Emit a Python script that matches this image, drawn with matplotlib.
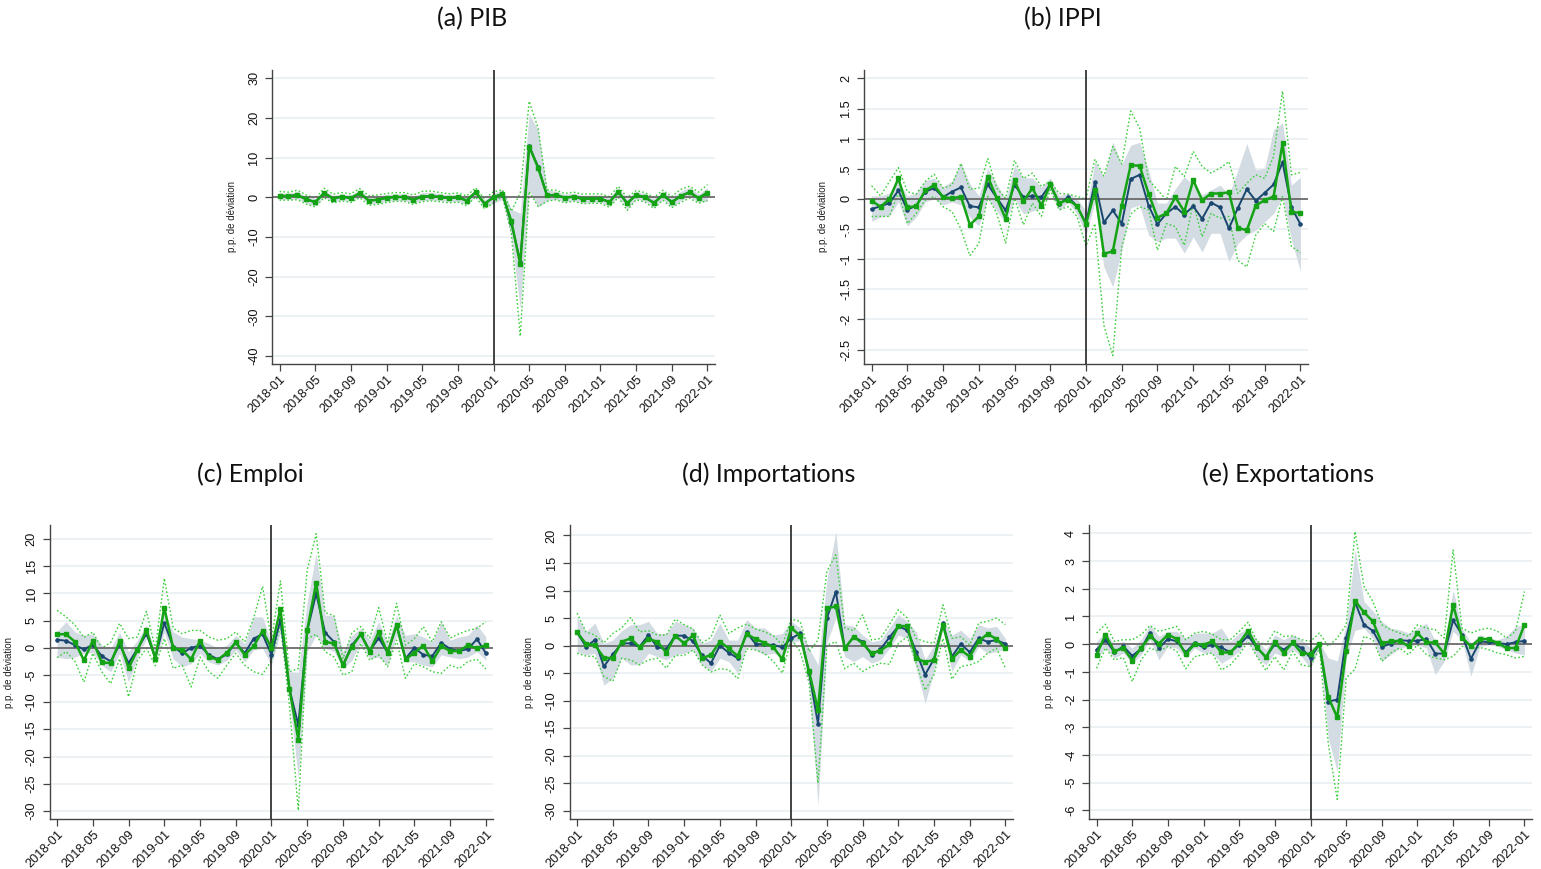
import numpy as np
import matplotlib
matplotlib.use("Agg")
import matplotlib.pyplot as plt
from matplotlib.ticker import FuncFormatter

# Monthly axis, 2018-01 .. 2022-01
MONTHS = [f"{y}-{m:02d}" for y in range(2018, 2023) for m in range(1, 13)][:49]

# ---- (a) PIB ----
pib_blue = [0.4, 0.3, 0.6, -0.5, -1.2, 1.1, -0.3, 0.2, -0.2, 1.1, -0.8, -0.6, -0.1, 0.1, 0.1, -0.6, 0.2, 0.3, 0.1, -0.2, 0.0, -0.8, 1.3, -1.6, 0.0,
            0.9, -6.5, -16.2, 13.0, 7.7, 0.5, 0.6, -0.1, 0.2, -0.4, -0.3, -0.3, -1.2, 1.4, -1.5, 0.6, 0.0, -1.4, 0.6, -1.2, 0.3, 1.3, -0.2, 1.2]
pib_green = [0.4, 0.3, 0.6, -0.5, -1.2, 1.1, -0.3, 0.2, -0.2, 1.1, -0.8, -0.6, -0.1, 0.1, 0.1, -0.6, 0.2, 0.3, 0.1, -0.2, 0.0, -0.8, 1.3, -1.6, 0.0,
             0.9, -6.0, -16.8, 12.8, 7.5, 0.5, 0.6, -0.1, 0.2, -0.4, -0.3, -0.3, -1.2, 1.4, -1.5, 0.6, 0.0, -1.4, 0.6, -1.2, 0.3, 1.3, -0.2, 1.2]
pib_band_lo = [-0.4, -0.5, -0.4, -1.4, -2.2, 0.2, -1.2, -0.6, -1.0, 0.2, -1.6, -1.5, -1.0, -0.8, -0.8, -1.5, -0.8, -0.7, -0.8, -1.1, -1.0, -1.8, 0.4, -2.6, -1.5,
               -0.5, -10.0, -28.0, 2.0, -2.5, -0.8, -0.5, -1.2, -0.8, -1.4, -1.2, -1.2, -2.2, 0.2, -3.0, -0.4, -1.0, -2.5, -0.5, -2.4, -0.8, 0.2, -1.2, -1.0]
pib_band_hi = [1.2, 1.0, 1.5, 0.3, -0.3, 1.8, 0.5, 0.9, 0.6, 1.8, 0.0, 0.3, 0.8, 0.9, 0.9, 0.3, 1.2, 1.3, 0.9, 0.6, 0.8, 0.2, 2.0, -0.6, 1.0,
               2.0, -3.0, -4.0, 21.0, 17.0, 2.0, 1.5, 0.8, 1.0, 0.5, 0.6, 0.6, 0.0, 2.5, -0.3, 1.5, 1.0, -0.2, 1.5, 0.0, 1.5, 2.5, 0.8, 2.5]
pib_dot_lo = [-0.7, -0.7, -0.6, -1.7, -2.4, -0.1, -1.4, -0.9, -1.3, -0.1, -2.0, -1.8, -1.3, -1.0, -1.0, -1.8, -1.1, -0.9, -1.1, -1.4, -1.2, -2.1, 0.1, -2.9, -1.4,
              0.3, -9.0, -35.0, 1.5, -2.3, -1.0, -0.6, -1.4, -1.0, -1.6, -1.5, -1.5, -2.5, 0.0, -3.3, -0.6, -1.2, -2.8, -0.7, -2.6, -1.3, -0.2, -1.5, -0.8]
pib_dot_hi = [1.5, 1.3, 1.8, 0.6, -0.2, 2.3, 0.8, 1.2, 0.9, 2.2, 0.4, 0.6, 1.0, 1.2, 1.2, 0.6, 1.5, 1.6, 1.2, 0.9, 1.1, 0.4, 2.4, -0.4, 1.4,
              1.9, -3.5, 1.1, 24.2, 17.5, 1.9, 1.8, 1.0, 1.3, 0.8, 0.9, 0.9, 0.2, 2.8, 0.0, 1.7, 1.2, 0.0, 1.8, 0.2, 2.0, 2.8, 1.3, 3.2]

# ---- (b) IPPI ----
ippi_blue = [-0.17, -0.12, -0.07, 0.14, -0.18, -0.11, 0.12, 0.18, 0.03, 0.12, 0.19, -0.12, -0.14, 0.24, 0.02, -0.19, 0.23, 0.03, 0.05, 0.03, 0.24, -0.09, 0.03, -0.12, -0.41,
             0.28, -0.39, -0.19, -0.41, 0.33, 0.40, -0.11, -0.42, -0.24, -0.13, -0.26, -0.12, -0.33, -0.06, -0.14, -0.49, -0.15, 0.16, -0.03, 0.10, 0.24, 0.61, -0.14, -0.42]
ippi_green = [-0.03, -0.13, 0.0, 0.34, -0.14, -0.12, 0.14, 0.23, 0.03, 0.01, 0.04, -0.43, -0.29, 0.37, 0.02, -0.33, 0.31, -0.04, 0.18, -0.11, 0.24, -0.07, -0.01, -0.12, -0.42,
              0.14, -0.91, -0.87, -0.11, 0.56, 0.55, 0.09, -0.31, -0.24, 0.03, -0.21, 0.31, -0.02, 0.09, 0.09, 0.11, -0.48, -0.52, -0.11, -0.02, 0.04, 0.92, -0.22, -0.23]
ippi_band_lo = [-0.37, -0.30, -0.28, -0.05, -0.45, -0.30, -0.05, 0.0, -0.10, -0.05, -0.10, -0.30, -0.45, 0.0, -0.20, -0.40, 0.0, -0.25, -0.20, -0.15, 0.15, -0.20, -0.05, -0.25, -0.60,
                -0.05, -1.13, -1.46, -0.85, -0.15, -0.10, -0.60, -0.71, -0.65, -0.65, -0.90, -0.63, -0.88, -0.57, -0.57, -1.04, -0.74, -0.60, -0.52, -0.38, -0.24, 0.04, -0.68, -1.20]
ippi_band_hi = [0.05, 0.05, 0.10, 0.30, 0.05, 0.10, 0.30, 0.35, 0.20, 0.30, 0.60, 0.25, 0.05, 0.50, 0.25, 0.0, 0.55, 0.35, 0.35, 0.20, 0.35, 0.05, 0.10, 0.0, -0.20,
                0.62, 0.37, 0.95, 0.57, 0.89, 0.94, 0.48, -0.07, -0.07, 0.17, 0.37, 0.23, 0.07, 0.15, 0.23, 0.07, 0.48, 0.92, 0.48, 0.51, 1.15, 1.26, 0.23, 0.36]
ippi_dot_lo = [-0.29, -0.29, -0.29, 0.11, -0.41, -0.24, -0.02, 0.04, -0.13, -0.21, -0.50, -0.94, -0.74, 0.04, -0.24, -0.73, 0.01, -0.43, -0.07, -0.29, 0.15, -0.18, -0.13, -0.29, -0.78,
               -0.41, -2.10, -2.60, -0.80, -0.25, -0.13, -0.18, -0.85, -0.41, -0.46, -0.77, -0.07, -0.63, -0.24, -0.32, -0.29, -1.02, -1.13, -0.60, -0.41, -0.54, 0.04, -0.79, -0.89]
ippi_dot_hi = [0.22, 0.05, 0.29, 0.52, 0.12, 0.08, 0.29, 0.41, 0.18, 0.23, 0.59, 0.16, 0.18, 0.67, 0.18, 0.01, 0.64, 0.34, 0.43, 0.21, 0.29, 0.09, 0.08, 0.04, 0.0,
               0.66, 0.38, 0.87, 0.58, 1.46, 1.18, 0.32, 0.15, -0.02, 0.54, 0.37, 0.79, 0.54, 0.43, 0.51, 0.62, 0.09, 0.26, 0.40, 0.34, 0.71, 1.79, 0.40, 0.44]

# ---- (c) Emploi ----
emploi_blue = [1.5, 1.3, 0.5, -0.3, 0.6, -1.5, -2.5, 0.6, -2.8, -0.2, 2.6, -1.8, 4.6, 0.2, -1.0, 0.0, 0.4, -1.3, -2.1, -1.2, 1.0, -1.0, 1.7, 2.5, -1.3,
               5.2, -7.5, -14.2, 3.1, 10.0, 2.8, 1.1, -3.2, 0.5, 2.5, -0.6, 1.8, -0.9, 4.2, -2.0, 0.0, -1.3, -1.5, 0.9, -0.2, -0.6, -0.2, 1.6, -1.0]
emploi_green = [2.5, 2.5, 1.1, -2.3, 1.3, -2.7, -2.8, 1.2, -3.7, -0.4, 3.3, -2.0, 7.4, -0.1, -0.4, -2.1, 1.3, -1.7, -2.2, -0.9, 1.0, -1.3, 0.3, 3.1, 0.0,
                7.2, -7.5, -16.9, 3.3, 12.0, 1.1, 0.8, -3.2, 0.2, 2.5, -0.7, 2.9, -0.9, 4.2, -2.1, -0.9, 0.4, -2.5, 0.3, -0.6, -0.6, 0.5, -0.1, 0.5]
emploi_band_lo = [-1.7, -2.0, -1.7, -1.0, -0.9, -3.2, -4.4, -1.0, -6.3, -1.7, 1.7, -2.6, 2.9, -2.0, -3.5, -2.9, -1.0, -2.6, -3.2, -2.3, -0.4, -2.6, -0.4, -0.1, -3.2,
                  3.0, -9.3, -24.0, -0.7, 2.3, -0.1, -0.7, -3.8, -2.3, 1.1, -2.0, -1.7, -3.2, 2.3, -2.6, -2.6, -3.2, -3.5, -1.3, -1.7, -2.0, -1.7, -0.7, -2.3]
emploi_band_hi = [3.0, 4.8, 2.9, 2.3, 2.6, 0.5, -0.1, 2.8, -0.7, 1.4, 4.2, -0.7, 6.6, 2.9, 2.0, 1.7, 1.4, 0.8, -0.1, 0.5, 2.3, 0.8, 5.7, 5.7, 0.8,
                  7.0, -4.4, -4.5, 8.5, 17.4, 6.0, 5.9, -0.7, 2.3, 3.6, 1.4, 4.8, 0.8, 6.0, 2.3, 2.6, 2.0, 1.1, 4.8, 1.4, 2.0, 2.3, 4.2, 2.0]
emploi_dot_lo = [-1.8, -0.7, -2.5, -6.3, -1.0, -4.4, -6.6, -2.0, -9.0, -2.3, -0.1, -3.3, 1.7, -3.8, -3.2, -7.2, -1.7, -4.4, -5.6, -3.2, -1.0, -3.2, -4.4, -4.9, -2.3,
                 4.2, -10.5, -29.9, 1.7, 2.5, -0.7, -1.7, -5.0, -4.4, 0.8, -2.3, -1.3, -3.5, 1.4, -5.6, -2.9, -3.5, -4.4, -4.7, -3.2, -3.8, -2.5, -2.1, -3.9]
emploi_dot_hi = [6.9, 5.7, 4.2, 1.9, 2.9, -0.1, 1.0, 4.5, 1.7, 2.0, 6.7, -0.2, 12.8, 3.6, 2.6, 3.2, 3.2, 2.0, 1.4, 1.7, 2.9, 1.1, 5.5, 11.3, 1.4,
                 12.3, -4.4, -3.8, 14.3, 21.0, 6.5, 5.9, -2.0, 2.8, 3.9, 1.8, 7.4, 0.8, 8.2, 0.5, 1.7, 3.9, 1.1, 4.8, 1.8, 2.6, 3.2, 3.6, 4.8]

# ---- (d) Importations ----
imp_blue = [2.4, -0.2, 1.0, -3.8, -1.6, 0.4, 0.4, -0.2, 1.9, -0.3, -0.6, 1.8, 1.8, 0.8, -1.8, -3.2, 0.0, -1.3, -2.3, 2.4, 0.3, 0.2, 0.1, -0.3, 1.3,
            2.2, -5.0, -14.2, 5.0, 9.8, -0.5, 1.6, 0.7, -1.7, -0.7, 1.5, 3.5, 2.8, -1.1, -5.3, -2.4, 4.1, -2.0, 0.3, -1.2, 1.3, 0.7, 1.0, 0.3]
imp_green = [2.4, 0.3, 0.1, -2.2, -2.3, 0.7, 1.3, -0.3, 1.2, 0.7, -1.3, 1.8, 0.4, 1.9, -2.3, -1.7, 0.7, -0.5, -1.9, 2.1, 1.2, 0.5, -0.3, -2.5, 3.2,
             1.8, -4.7, -11.7, 6.8, 7.1, -0.5, 1.6, 0.4, -1.4, -0.9, 0.2, 3.6, 3.5, -2.3, -3.0, -2.6, 3.8, -2.4, -0.8, -2.0, 0.8, 2.1, 1.2, -0.5]
imp_band_lo = [-1.2, -1.7, -1.4, -7.2, -5.9, -2.3, -3.5, -3.5, -1.4, -2.0, -2.6, -1.7, -1.4, -0.8, -3.5, -4.7, -2.3, -2.9, -5.0, -0.2, -0.8, -1.7, -1.4, -2.0, 0.4,
               1.0, -7.2, -29.0, 0.5, 5.0, -2.0, -2.9, -2.0, -3.2, -2.6, -0.5, 1.9, 1.3, -4.1, -10.5, -4.7, 3.2, -4.7, -1.7, -2.9, -0.2, -1.4, -1.1, -0.6]
imp_band_hi = [5.3, 2.5, 4.1, 0.4, 1.0, 2.7, 3.8, 3.8, 4.4, 2.2, 2.2, 4.4, 3.8, 3.2, 0.4, 1.0, 4.1, 1.0, 1.0, 4.7, 3.2, 3.2, 1.9, 2.2, 4.4,
               3.2, -0.5, -3.5, 12.0, 20.7, 3.8, 3.5, 1.9, 0.7, 1.0, 3.2, 5.6, 4.4, 2.5, -2.6, 0.1, 4.7, 1.9, 2.8, 1.3, 3.8, 3.2, 3.5, 1.3]
imp_dot_lo = [-1.4, -1.9, -2.0, -5.6, -6.5, -2.3, -2.6, -3.5, -2.6, -2.3, -4.1, -1.8, -1.8, -0.8, -3.5, -4.8, -4.2, -4.4, -6.0, -0.6, -0.8, -1.4, -2.9, -5.0, 1.2,
              -1.1, -6.8, -25.0, 0.1, 0.7, -4.2, -3.2, -4.7, -3.8, -3.2, -3.4, 0.4, 1.6, -3.2, -8.1, -5.3, 1.3, -6.1, -3.8, -3.5, -2.9, -1.4, -0.5, -4.1]
imp_dot_hi = [5.9, 2.5, 1.9, 0.5, 2.2, 3.2, 5.1, 2.5, 2.7, 1.9, 1.9, 4.8, 3.8, 3.0, 0.5, 1.5, 5.6, 2.2, 3.2, 3.9, 3.0, 2.5, 1.8, 0.1, 4.8,
              4.4, -1.1, 1.0, 13.5, 16.5, 3.2, 2.7, 5.6, 1.0, 1.3, 3.8, 6.5, 5.0, 1.3, 0.7, 0.4, 7.4, 1.3, 1.6, 0.1, 4.1, 4.4, 5.0, 3.8]

# ---- (e) Exportations ----
exp_blue = [-0.2, 0.16, -0.29, -0.08, -0.42, -0.17, 0.42, -0.14, 0.19, 0.1, -0.3, 0.04, -0.12, -0.02, -0.12, -0.3, -0.02, 0.3, -0.14, -0.47, 0.0, -0.2, 0.04, -0.14, -0.5,
            0.0, -2.07, -2.0, 0.22, 1.51, 0.7, 0.48, -0.1, 0.02, 0.14, 0.12, 0.12, 0.19, -0.34, -0.34, 0.86, 0.34, -0.53, 0.1, 0.07, 0.04, 0.0, 0.07, 0.12]
exp_green = [-0.38, 0.34, -0.26, -0.14, -0.59, -0.14, 0.28, 0.02, 0.34, 0.19, -0.36, 0.0, -0.02, 0.1, -0.3, -0.3, 0.04, 0.48, -0.12, -0.47, 0.07, -0.32, 0.06, -0.32, -0.36,
             0.0, -1.92, -2.64, -0.24, 1.56, 1.15, 0.82, 0.04, 0.1, 0.12, -0.08, 0.4, 0.06, 0.06, -0.34, 1.42, 0.24, -0.08, 0.19, 0.18, 0.04, -0.14, -0.14, 0.7]
exp_band_lo = [-0.5, -0.14, -0.5, -0.32, -0.69, -0.38, 0.16, -0.57, -0.08, -0.14, -0.5, -0.14, -0.32, -0.32, -0.69, -0.5, -0.26, 0.16, -0.5, -0.75, -0.32, -0.45, -0.2, -0.45, -0.87,
               -0.1, -3.4, -4.6, -0.5, 0.5, 0.58, 0.2, -0.62, -0.38, -0.14, -0.08, -0.02, -0.14, -1.1, -0.62, 0.46, 0.16, -1.16, -0.08, -0.02, -0.08, -0.2, -0.32, -0.38]
exp_band_hi = [0.1, 0.46, -0.02, 0.1, -0.14, 0.16, 0.7, 0.28, 0.46, 0.46, 0.22, 0.4, 0.4, 0.4, 0.58, 0.1, 0.4, 0.58, 0.16, -0.2, 0.34, 0.16, 0.34, 0.16, -0.14,
               0.05, -0.5, -0.6, 0.7, 3.4, 1.54, 1.2, 0.82, 0.58, 0.52, 0.4, 0.58, 0.76, 0.1, 0.04, 1.96, 0.58, 0.04, 0.34, 0.22, 0.16, 0.28, 0.64, 0.7]
exp_dot_lo = [-0.87, -0.14, -0.57, -0.48, -1.35, -0.57, -0.14, -0.26, -0.08, -0.26, -0.89, -0.45, -0.38, -0.32, -0.93, -0.75, -0.38, 0.1, -0.45, -0.95, -0.45, -0.93, -0.26, -0.75, -0.81,
              -0.14, -3.6, -5.6, -1.22, -0.9, 0.28, 0.16, -0.62, -0.32, -0.14, -0.38, -0.02, -0.38, -0.5, -0.56, -0.44, -0.08, -0.14, -0.12, -0.2, -0.32, -0.38, -0.5, -0.44]
exp_dot_hi = [0.4, 0.72, 0.1, 0.16, 0.16, 0.34, 0.67, 0.46, 0.55, 0.64, 0.16, 0.4, 0.46, 0.36, 0.16, 0.16, 0.46, 0.79, 0.1, -0.02, 0.48, 0.28, 0.3, 0.16, 0.1,
              0.4, -0.08, 0.22, 0.7, 4.06, 2.08, 1.54, 0.7, 0.52, 0.4, 0.28, 0.7, 0.58, 0.52, 0.22, 3.4, 0.58, 0.4, 0.52, 0.58, 0.46, 0.22, 0.46, 1.9]

# Colours (Stata-like)
NAVY = "#1a476f"
GREEN = "#14a314"
DOT_GREEN = "#3ccf3c"
BAND = "#d3dbe3"
GRID = "#e9eff2"

W, H = 1541, 869

# panel: title, data, axes box in pixels (left, top, right, bottom), ylim, yticks, title centre
PANELS = [
    ("(a) PIB", (pib_blue, pib_green, pib_band_lo, pib_band_hi, pib_dot_lo, pib_dot_hi),
     (272, 70, 715, 364), (-42, 32.1), np.arange(-40, 31, 10), (472, 19)),
    ("(b) IPPI", (ippi_blue, ippi_green, ippi_band_lo, ippi_band_hi, ippi_dot_lo, ippi_dot_hi),
     (864, 70, 1308, 364), (-2.74, 2.14), np.arange(-2.5, 2.01, 0.5), (1063, 19)),
    ("(c) Emploi", (emploi_blue, emploi_green, emploi_band_lo, emploi_band_hi, emploi_dot_lo, emploi_dot_hi),
     (49.5, 525, 493.5, 819), (-31.5, 22.6), np.arange(-30, 21, 5), (250, 474)),
    ("(d) Importations", (imp_blue, imp_green, imp_band_lo, imp_band_hi, imp_dot_lo, imp_dot_hi),
     (569.5, 525, 1013, 819), (-31.5, 21.9), np.arange(-30, 21, 5), (769, 474)),
    ("(e) Exportations", (exp_blue, exp_green, exp_band_lo, exp_band_hi, exp_dot_lo, exp_dot_hi),
     (1089, 525, 1532, 819), (-6.31, 4.3), np.arange(-6, 5, 1), (1288, 474)),
]


def stata_label(v, pos=None):
    """Stata-style numbers: .5 instead of 0.5, no trailing zeros."""
    v = round(v, 6)
    if v == 0:
        return "0"
    s = f"{v:g}"
    if s.startswith("0."):
        s = s[1:]
    elif s.startswith("-0."):
        s = "-" + s[2:]
    return s


def draw_panel(fig, title, data, box, ylim, yticks, title_pos):
    blue, green, band_lo, band_hi, dot_lo, dot_hi = data
    x = np.arange(len(MONTHS))
    l, t, r, b = box
    ax = fig.add_axes([l / W, 1 - b / H, (r - l) / W, (b - t) / H])

    for yt in yticks:
        if round(yt, 6) != 0:
            ax.axhline(yt, color=GRID, lw=1.2, zorder=0)

    ax.fill_between(x, band_lo, band_hi, color=BAND, lw=0, zorder=1)
    ax.plot(x, dot_lo, color=DOT_GREEN, lw=1.0, ls=(0, (1.2, 1.6)), zorder=2)
    ax.plot(x, dot_hi, color=DOT_GREEN, lw=1.0, ls=(0, (1.2, 1.6)), zorder=2)
    ax.axhline(0, color="#6b6b6b", lw=1.3, zorder=2)
    ax.axvline(24, color="#111111", lw=1.1, zorder=3)
    ax.plot(x, blue, color=NAVY, lw=1.4, marker="o", ms=2.3, zorder=4)
    ax.plot(x, green, color=GREEN, lw=1.8, marker="s", ms=2.2, zorder=5)

    ax.set_xlim(-0.85, 48.85)
    ax.set_ylim(*ylim)
    ax.set_yticks(yticks)
    ax.yaxis.set_major_formatter(FuncFormatter(stata_label))
    ax.set_xticks(x[::4])
    ax.set_xticklabels(MONTHS[::4], rotation=45, ha="right", rotation_mode="anchor")

    for side in ("top", "right"):
        ax.spines[side].set_visible(False)
    for side in ("left", "bottom"):
        ax.spines[side].set_color("#444444")
        ax.spines[side].set_linewidth(1.0)
    ax.tick_params(axis="both", direction="out", length=5, width=0.9, color="#444444",
                   labelsize=9.2, labelcolor="#111111")
    ax.tick_params(axis="x", pad=2)
    for lab in ax.get_yticklabels():
        lab.set_rotation(90)
        lab.set_va("center")

    ax.set_ylabel("p.p. de déviation", fontsize=7, color="#222222")
    ax.yaxis.set_label_coords(-0.08, 0.5)

    fig.text(title_pos[0] / W, 1 - title_pos[1] / H, title, ha="center", va="center",
             fontsize=18, family=["Lato", "DejaVu Sans"], color="#111111")
    return ax


if __name__ == "__main__":
    plt.rcParams["font.family"] = ["Liberation Sans", "DejaVu Sans"]
    fig = plt.figure(figsize=(W / 100, H / 100), dpi=100)
    for title, data, box, ylim, yticks, tpos in PANELS:
        draw_panel(fig, title, data, box, ylim, yticks, tpos)
    fig.savefig("out.png", dpi=100, facecolor="white")
